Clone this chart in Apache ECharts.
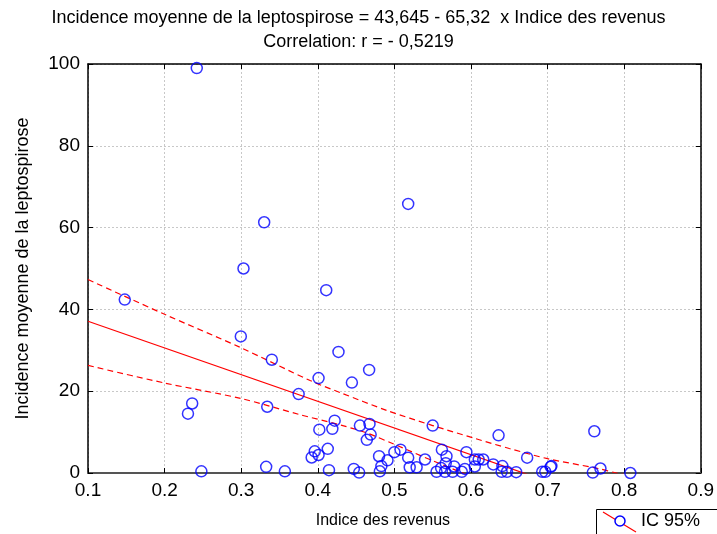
<!DOCTYPE html>
<html>
<head>
<meta charset="utf-8">
<script src="https://cdn.jsdelivr.net/npm/echarts@6/dist/echarts.min.js"></script>
<style>html,body{margin:0;padding:0;background:#fff}#c{width:717px;height:534px}</style>
</head>
<body>
<div id="c"></div>
<script>
var titleLines = ['Incidence moyenne de la leptospirose = 43,645 - 65,32  x Indice des revenus', 'Correlation: r = - 0,5219'];
var xName = 'Indice des revenus';
var yName = 'Incidence moyenne de la leptospirose';
var legendLabel = 'IC 95%';
var xTicks = [0.1, 0.2, 0.3, 0.4, 0.5, 0.6, 0.7, 0.8, 0.9];
var yTicks = [0, 20, 40, 60, 80, 100];

var incomeIndex = [0.242,0.148,0.330,0.303,0.411,0.518,0.2995,0.340,0.427,0.467,0.401,0.4445,0.375,0.236,0.2305,0.334,0.422,0.402,0.419,0.455,0.4675,0.469,0.464,0.550,0.636,0.761,0.396,0.392,0.401,0.413,0.3326,0.248,0.357,0.4146,0.447,0.454,0.480,0.483,0.481,0.491,0.500,0.508,0.518,0.520,0.529,0.540,0.562,0.568,0.567,0.561,0.555,0.566,0.578,0.576,0.592,0.588,0.594,0.605,0.610,0.616,0.605,0.629,0.641,0.640,0.647,0.659,0.6733,0.693,0.697,0.704,0.705,0.759,0.769,0.808];
var incidence = [99.0,42.4,61.3,50.0,44.7,65.8,33.4,27.7,29.6,25.2,23.2,22.1,19.3,17.0,14.5,16.2,12.8,10.6,10.8,11.6,12.0,9.4,8.1,11.6,9.2,10.2,5.3,3.8,4.4,5.9,1.5,0.4,0.4,0.7,1.0,0.1,4.1,1.7,0.4,3.1,5.1,5.7,3.75,1.4,1.4,3.3,5.7,4.1,2.4,1.2,0.3,0.3,1.6,0.3,1.0,0.3,5.1,3.3,3.3,3.3,1.6,2.1,1.7,0.3,0.3,0.2,3.75,0.3,0.3,1.5,1.7,0.1,1.1,0.0];

var fitX = [0.1, 0.9];
var fitY = [37.1, -15.1];
var upperX = [0.1, 0.2, 0.3, 0.39, 0.43, 0.49, 0.55, 0.606, 0.65, 0.7, 0.766, 0.79, 0.85];
var upperY = [47.3, 38.8, 30.6, 22.6, 19.6, 15.3, 11.6, 8.4, 6.0, 3.5, 1.1, 0.0, -2.0];
var lowerX = [0.1, 0.2, 0.3, 0.376, 0.43, 0.4625, 0.5, 0.55, 0.6, 0.65];
var lowerY = [26.3, 22.0, 18.2, 14.3, 11.7, 9.9, 7.0, 3.0, -0.8, -4.5];

function zip(a, b) { return a.map(function (v, i) { return [v, b[i]]; }); }

var FONT = 'Liberation Sans, Arial, sans-serif';
var chart = echarts.init(document.getElementById('c'), null, {renderer: 'canvas'});
var gridStyle = {show: true, lineStyle: {color: '#c8c8c8', type: [2, 2], width: 1}};
chart.setOption({
  animation: false,
  backgroundColor: '#fff',
  title: {
    text: titleLines.join('\n'),
    left: 'center', top: 1,
    textStyle: {fontFamily: FONT, fontSize: 18, fontWeight: 'normal', color: '#000', lineHeight: 24}
  },
  grid: {left: 88, right: 14, top: 64, bottom: 59},
  xAxis: [{
    type: 'value', min: 0.1, max: 0.9, interval: 0.1,
    name: xName, nameLocation: 'middle', nameGap: 40,
    nameTextStyle: {fontFamily: FONT, fontSize: 16, color: '#000', padding: [0, 23, 0, 0]},
    axisLine: {show: true, onZero: false, lineStyle: {color: '#555', width: 2}},
    axisTick: {show: true, inside: true, length: 5, lineStyle: {color: '#000'}},
    axisLabel: {fontFamily: FONT, fontSize: 19, color: '#000', margin: 8,
      formatter: function (v) { return (+v).toFixed(1); }},
    splitLine: gridStyle
  }, {
    type: 'value', min: 0.1, max: 0.9, interval: 0.1, position: 'top',
    axisLine: {show: true, onZero: false, lineStyle: {color: '#000', width: 1.5}},
    axisTick: {show: true, inside: true, length: 5, lineStyle: {color: '#000'}},
    axisLabel: {show: false}, splitLine: {show: false}
  }],
  yAxis: [{
    type: 'value', min: 0, max: 100, interval: 20,
    name: yName, nameLocation: 'middle', nameGap: 56, nameRotate: 90,
    nameTextStyle: {fontFamily: FONT, fontSize: 18, color: '#000'},
    axisLine: {show: true, onZero: false, lineStyle: {color: '#000', width: 1.5}},
    axisTick: {show: true, inside: true, length: 5, lineStyle: {color: '#000'}},
    axisLabel: {fontFamily: FONT, fontSize: 19, color: '#000', margin: 8},
    splitLine: gridStyle
  }, {
    type: 'value', min: 0, max: 100, interval: 20, position: 'right',
    axisLine: {show: true, onZero: false, lineStyle: {color: '#000', width: 1.5}},
    axisTick: {show: true, inside: true, length: 5, lineStyle: {color: '#000'}},
    axisLabel: {show: false}, splitLine: {show: false}
  }],
  series: [{
    name: 'fit', type: 'line', data: zip(fitX, fitY), showSymbol: false, symbol: 'none',
    lineStyle: {color: '#ff0000', width: 1.2}, clip: true, silent: true
  }, {
    name: 'upper', type: 'line', data: zip(upperX, upperY), symbol: 'none', smooth: 0.3,
    lineStyle: {color: '#ff0000', width: 1.2, type: [6, 4]}, clip: true, silent: true
  }, {
    name: 'lower', type: 'line', data: zip(lowerX, lowerY), symbol: 'none', smooth: 0.3,
    lineStyle: {color: '#ff0000', width: 1.2, type: [6, 4]}, clip: true, silent: true
  }, {
    name: legendLabel, type: 'scatter', data: zip(incomeIndex, incidence),
    symbol: 'circle', symbolSize: 11,
    itemStyle: {color: 'rgba(0,0,0,0)', borderColor: '#0000ff', borderWidth: 1.5},
    clip: false, z: 5
  }],
  graphic: [
    {type: 'rect', shape: {x: 596.5, y: 509.5, width: 130, height: 40}, style: {fill: '#fff', stroke: '#000', lineWidth: 1}},
    {type: 'line', shape: {x1: 603, y1: 512, x2: 636, y2: 532}, style: {stroke: '#ff0000', lineWidth: 1.2}},
    {type: 'circle', shape: {cx: 620, cy: 521, r: 5}, style: {fill: '#fff', stroke: '#0000ff', lineWidth: 1.5}},
    {type: 'text', left: 641, top: 512, style: {text: legendLabel, font: '18px ' + FONT, fill: '#000'}}
  ]
});
</script>
</body>
</html>
